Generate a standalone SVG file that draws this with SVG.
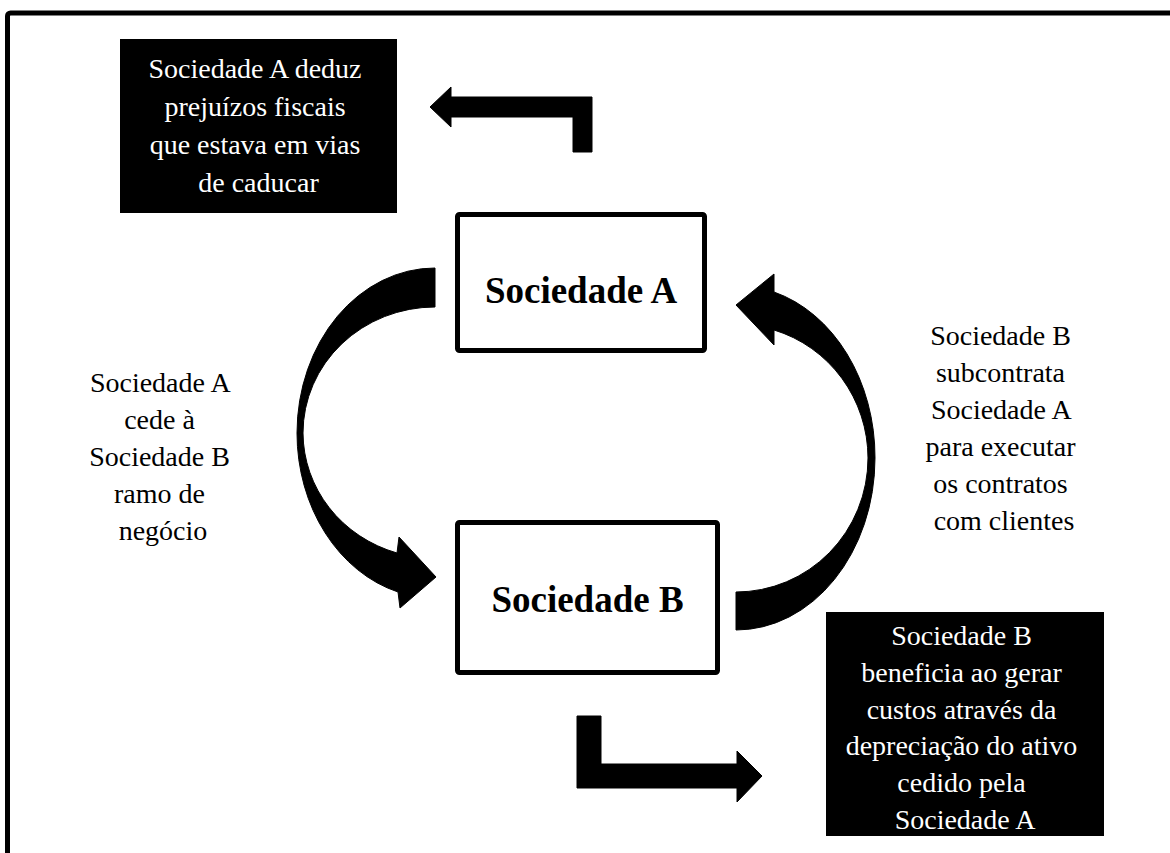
<svg xmlns="http://www.w3.org/2000/svg" width="1170" height="853" viewBox="0 0 1170 853">
  <style>
    .frame { fill: none; stroke: #000; stroke-width: 5; }
    .entity { fill: #fff; stroke: #000; stroke-width: 5; }
    .entity-label { font-family: "Liberation Serif", "Times New Roman", serif; font-size: 37px; font-weight: bold; fill: #000; text-anchor: middle; }
    .effect { fill: #000; }
    .effect-text { font-family: "Liberation Serif", "Times New Roman", serif; font-size: 28px; fill: #fff; text-anchor: middle; }
    .note { font-family: "Liberation Serif", "Times New Roman", serif; font-size: 28px; fill: #000; text-anchor: middle; }
    .arrow { fill: #000; stroke: #000; stroke-width: 1; stroke-linejoin: round; }
  </style>

  <rect width="1170" height="853" fill="#fff"/>
  <!-- outer frame, open to the right and bottom -->
  <rect class="frame" x="7.5" y="13" width="1200" height="900" rx="3"/>

  <g id="connectors">
    <!-- A to B: curved arrow on the left -->
    <path id="arrow-a-to-b" class="arrow" d="M 435,268 A 138 165 0 0 0 297,433 A 138 165 0 0 0 398,592 L 400,608 L 436,577 L 399,537 L 397,553 A 132 126 0 0 1 303,433 A 132 126 0 0 1 435,307 Z"/>
    <!-- B to A: curved arrow on the right -->
    <path id="arrow-b-to-a" class="arrow" d="M 736,630 A 139 172 0 0 0 875,458 A 139 172 0 0 0 774,292 L 774,274 L 736,305 L 774,345 L 774,330 A 132 134 0 0 1 868,458 A 132 134 0 0 1 736,592 Z"/>
    <!-- A to its tax-loss note -->
    <path id="arrow-a-note" class="arrow" d="M 592,152 L 592,97 L 451,97 L 451,87 L 430,107 L 451,127 L 451,117 L 573,117 L 573,152 Z"/>
    <!-- B to its depreciation note -->
    <path id="arrow-b-note" class="arrow" d="M 577,716 L 601,716 L 601,764 L 737,764 L 737,751 L 762,776 L 737,802 L 737,788 L 577,788 Z"/>
  </g>

  <g id="sociedade-a">
    <rect class="entity" x="457.5" y="214.5" width="247" height="136" rx="2"/>
    <text class="entity-label" x="581" y="303">Sociedade A</text>
  </g>

  <g id="sociedade-b">
    <rect class="entity" x="457.5" y="522.5" width="260" height="150" rx="2"/>
    <text class="entity-label" x="587.5" y="612">Sociedade B</text>
  </g>

  <g id="note-a">
    <rect class="effect" x="120" y="39" width="277" height="174"/>
    <text class="effect-text" x="258.5">
      <tspan x="258.5" y="78">Sociedade A deduz</tspan>
      <tspan x="258.5" y="116">prejuízos fiscais</tspan>
      <tspan x="258.5" y="154">que estava em vias</tspan>
      <tspan x="258.5" y="192">de caducar</tspan>
    </text>
  </g>

  <g id="note-b">
    <rect class="effect" x="826" y="612" width="278" height="224"/>
    <text class="effect-text" x="965">
      <tspan x="965" y="645">Sociedade B</tspan>
      <tspan x="965" y="682">beneficia ao gerar</tspan>
      <tspan x="965" y="719">custos através da</tspan>
      <tspan x="965" y="755">depreciação do ativo</tspan>
      <tspan x="965" y="792">cedido pela</tspan>
      <tspan x="965" y="829">Sociedade A</tspan>
    </text>
  </g>

  <g id="label-a-to-b">
    <text class="note" x="163">
      <tspan x="163" y="392">Sociedade A</tspan>
      <tspan x="163" y="429">cede à</tspan>
      <tspan x="163" y="466">Sociedade B</tspan>
      <tspan x="163" y="503">ramo de</tspan>
      <tspan x="163" y="540">negócio</tspan>
    </text>
  </g>

  <g id="label-b-to-a">
    <text class="note" x="1004">
      <tspan x="1004" y="345">Sociedade B</tspan>
      <tspan x="1004" y="382">subcontrata</tspan>
      <tspan x="1004" y="419">Sociedade A</tspan>
      <tspan x="1004" y="456">para executar</tspan>
      <tspan x="1004" y="493">os contratos</tspan>
      <tspan x="1004" y="530">com clientes</tspan>
    </text>
  </g>
</svg>
